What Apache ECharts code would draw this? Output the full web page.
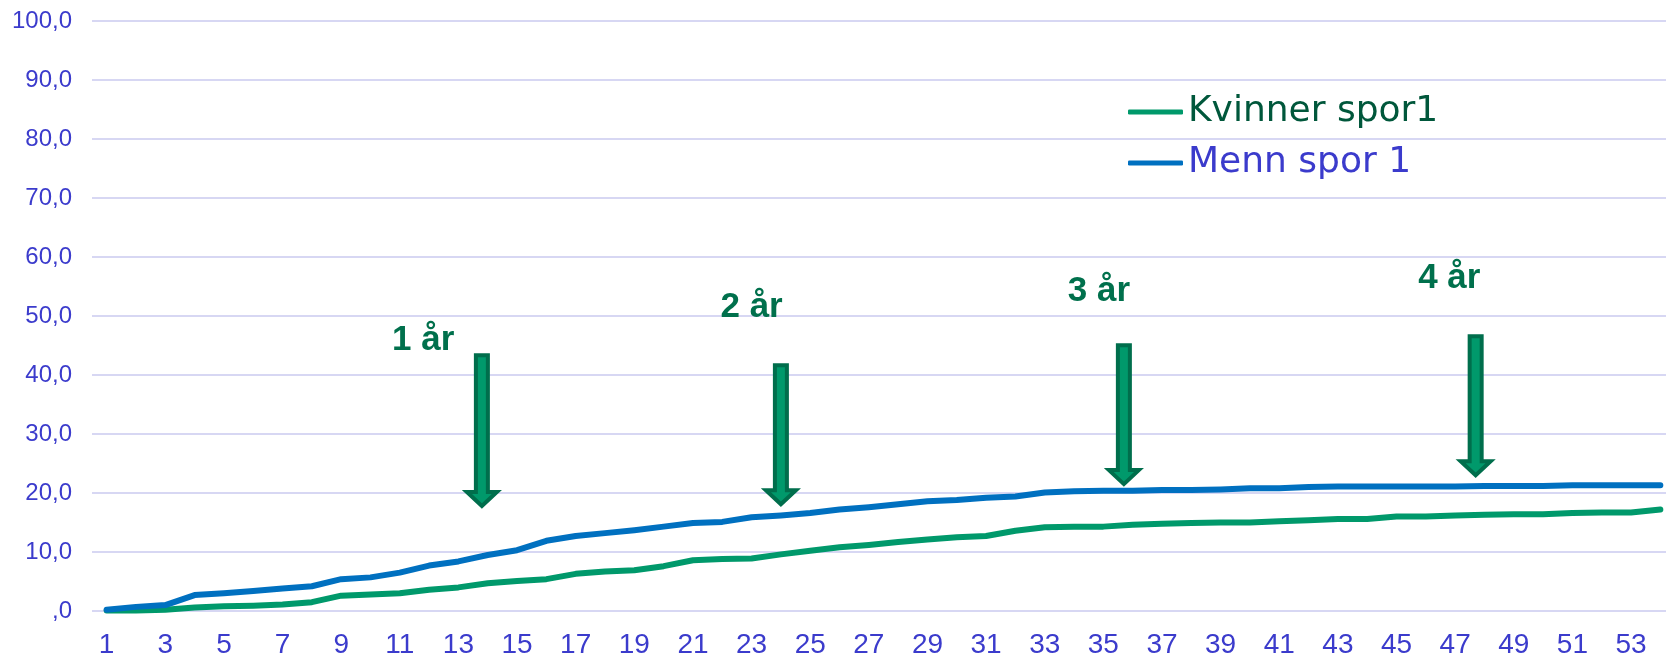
<!DOCTYPE html>
<html>
<head>
<meta charset="utf-8">
<script src="https://cdn.jsdelivr.net/npm/echarts@6/dist/echarts.min.js"></script>
<style>
  html, body { margin: 0; padding: 0; background: #fff; }
  #chart { width: 1666px; height: 655px; }
</style>
</head>
<body>
<div id="chart"></div>
<script>
// uker 1..54
var weeks = ['1','2','3','4','5','6','7','8','9','10','11','12','13','14','15','16','17','18',
  '19','20','21','22','23','24','25','26','27','28','29','30','31','32','33','34','35','36',
  '37','38','39','40','41','42','43','44','45','46','47','48','49','50','51','52','53','54']

var kvinner = [0.1, 0.1, 0.2, 0.6, 0.8, 0.9, 1.1, 1.5, 2.6, 2.8, 3.0, 3.6, 4.0, 4.7, 5.1, 5.4, 6.3, 6.7,
  6.9, 7.6, 8.6, 8.8, 8.9, 9.6, 10.2, 10.8, 11.2, 11.7, 12.1, 12.5, 12.7, 13.6, 14.2, 14.3, 14.3, 14.6,
  14.8, 14.9, 15.0, 15.0, 15.2, 15.4, 15.6, 15.6, 16.0, 16.0, 16.2, 16.3, 16.4, 16.4, 16.6, 16.7, 16.7, 17.2]

var menn = [0.2, 0.7, 1.0, 2.7, 3.0, 3.4, 3.8, 4.2, 5.4, 5.7, 6.5, 7.7, 8.4, 9.5, 10.3, 11.9, 12.7, 13.2,
  13.7, 14.3, 14.9, 15.1, 15.9, 16.2, 16.6, 17.2, 17.6, 18.1, 18.6, 18.8, 19.2, 19.4, 20.1, 20.3, 20.4, 20.4,
  20.5, 20.5, 20.6, 20.8, 20.8, 21.0, 21.1, 21.1, 21.1, 21.1, 21.1, 21.2, 21.2, 21.2, 21.3, 21.3, 21.3, 21.3]

var yTicks = [0, 10, 20, 30, 40, 50, 60, 70, 80, 90, 100]

// piler: [uke, topp, spiss] i dataenheter
var arrows = [[13.8, 43.7, 17.3], [24.0, 42.0, 17.6], [35.7, 45.4, 21.0], [47.7, 46.9, 22.5]]
// etiketter over pilene: [uke, verdi]
var yearNames = ['1 år', '2 år', '3 år', '4 år']
var yearPos = [[11.8, 45.8], [23.0, 51.4], [34.85, 54.2], [46.8, 56.4]]

var blueText = '#3b3bcc'

var myChart = echarts.init(document.getElementById('chart'))

var option = {
  animation: false,
  backgroundColor: '#fff',
  grid: {
    left: 92,
    right: -9,
    top: 21,
    bottom: 44,
    containLabel: false,
    outerBoundsMode: 'none'
  },
  legend: {
    orient: 'vertical',
    left: 1123,
    top: 89,
    icon: 'roundRect',
    itemWidth: 55,
    itemHeight: 5,
    itemGap: 15,
    textStyle: {
      fontSize: 36,
      fontFamily: 'DejaVu Sans'
    },
    data: [
      { name: 'Kvinner spor1', textStyle: { color: '#00573b' } },
      { name: 'Menn spor 1', textStyle: { color: blueText } }
    ]
  },
  xAxis: [
    {
      type: 'category',
      data: weeks,
      boundaryGap: true,
      axisLine: { show: false },
      axisTick: { show: false },
      axisLabel: {
        interval: 1,
        color: blueText,
        fontSize: 28,
        fontFamily: 'Liberation Sans',
        margin: 20
      }
    },
    {
      // skjult akse for pilene
      type: 'value',
      min: 0.5,
      max: 54.5,
      show: false
    }
  ],
  yAxis: {
    type: 'value',
    min: yTicks[0],
    max: yTicks[yTicks.length - 1],
    interval: 10,
    axisLine: { show: false },
    axisTick: { show: false },
    splitLine: { lineStyle: { color: '#d7d7f3', width: 2 } },
    axisLabel: {
      color: blueText,
      fontSize: 24,
      fontFamily: 'Liberation Sans',
      margin: 20,
      formatter: function (v) {
        return v === 0 ? ',0' : v.toFixed(1).replace('.', ',')
      }
    }
  },
  series: [
    {
      name: 'Kvinner spor1',
      type: 'line',
      data: kvinner,
      showSymbol: false,
      color: '#00996b',
      lineStyle: { width: 6, color: '#00996b', cap: 'round', join: 'round' }
    },
    {
      name: 'Menn spor 1',
      type: 'line',
      data: menn,
      showSymbol: false,
      color: '#0070c0',
      lineStyle: { width: 6, color: '#0070c0', cap: 'round', join: 'round' }
    },
    {
      type: 'custom',
      xAxisIndex: 1,
      yAxisIndex: 0,
      silent: true,
      z: 5,
      data: arrows.map(function (a, i) {
        return [a[0], a[1], a[2], yearPos[i][0], yearPos[i][1], i]
      }),
      renderItem: function (params, api) {
        var top = api.coord([api.value(0), api.value(1)])
        var tip = api.coord([api.value(0), api.value(2)])
        var lab = api.coord([api.value(3), api.value(4)])
        var cx = tip[0]
        var ty = top[1] + 2
        var py = tip[1] - 3
        var by = py - 14
        return {
          type: 'group',
          children: [
            {
              type: 'polygon',
              shape: {
                points: [
                  [cx - 6, ty], [cx + 6, ty], [cx + 6, by], [cx + 15, by],
                  [cx, py], [cx - 15, by], [cx - 6, by]
                ]
              },
              style: { fill: '#00996b', stroke: '#006e4c', lineWidth: 4 }
            },
            {
              type: 'text',
              style: {
                text: yearNames[api.value(5)],
                x: lab[0],
                y: lab[1],
                align: 'center',
                verticalAlign: 'middle',
                fill: '#00704c',
                fontSize: 35,
                fontWeight: 'bold',
                fontFamily: 'Liberation Sans'
              }
            }
          ]
        }
      }
    }
  ]
}

myChart.setOption(option, true)
</script>
</body>
</html>
